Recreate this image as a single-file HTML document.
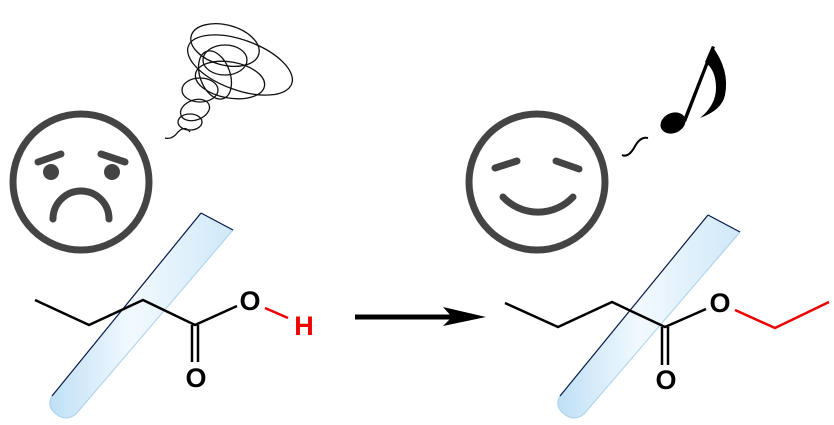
<!DOCTYPE html>
<html><head><style>html,body{margin:0;padding:0;background:#fff;}svg{display:block}</style></head>
<body>
<svg width="834" height="425" viewBox="0 0 834 425" xmlns="http://www.w3.org/2000/svg">
<defs>
<linearGradient id="tg" x1="0" y1="0" x2="1" y2="0">
<stop offset="0" stop-color="#bfe0f6"/><stop offset="0.45" stop-color="#f2f9fe"/><stop offset="1" stop-color="#cfe8f8"/>
</linearGradient>
</defs>
<!-- sad face -->
<g stroke="#444" fill="none" stroke-linecap="round">
<circle cx="81" cy="182" r="68" stroke-width="7"/>
<line x1="38" y1="162" x2="61" y2="154" stroke-width="7"/>
<line x1="101" y1="154" x2="125" y2="162" stroke-width="7"/>
<path d="M53 219 A28 28 0 0 1 109 219" stroke-width="7"/>
</g>
<circle cx="51" cy="172" r="8" fill="#444"/>
<circle cx="112" cy="172" r="8" fill="#444"/>
<!-- scribble -->
<g stroke="#111" fill="none" stroke-width="1.3">
<ellipse cx="225" cy="45" rx="35" ry="20" transform="rotate(15 225 45)"/>
<ellipse cx="240" cy="65" rx="55" ry="25" transform="rotate(20 240 65)"/>
<ellipse cx="225" cy="60" rx="22" ry="15"/>
<ellipse cx="215" cy="75" rx="15" ry="25" transform="rotate(-20 215 75)"/>
<ellipse cx="230" cy="80" rx="35" ry="18" transform="rotate(10 230 80)"/>
<ellipse cx="200" cy="90" rx="18" ry="12"/>
<ellipse cx="195" cy="110" rx="15" ry="10" transform="rotate(-20 195 110)"/>
<ellipse cx="190" cy="122" rx="12" ry="8"/>
<path d="M165 138 Q172 140 178 132 Q185 125 190 132"/>
</g>
<!-- left tube -->
<g>
<path d="M201 213 L233 230 L76 414 Q66 422 56 414 Q46 406 52 396 Z" fill="url(#tg)" stroke="#a8d0ec" stroke-width="1"/>
<path d="M201 213 L52 396" stroke="#0a1a4a" stroke-width="1.2"/>
<path d="M201 213 L233 230" stroke="#0a1a4a" stroke-width="1.2"/>
</g>
<!-- left molecule -->
<g stroke="#000" stroke-width="2.5" fill="none">
<polyline points="35,300 89,325 143,300 195,325 237,306"/>
<line x1="192" y1="325" x2="192" y2="362"/>
<line x1="198" y1="325" x2="198" y2="362"/>
<line x1="265" y1="308" x2="288" y2="318" stroke="#e00"/>
</g>
<text x="250" y="310" font-family="Liberation Sans, sans-serif" font-weight="bold" font-size="27" text-anchor="middle">O</text>
<text x="196" y="387" font-family="Liberation Sans, sans-serif" font-weight="bold" font-size="27" text-anchor="middle">O</text>
<text x="304" y="335" font-family="Liberation Sans, sans-serif" font-weight="bold" font-size="27" text-anchor="middle" fill="#e00">H</text>
<!-- arrow -->
<line x1="355" y1="317" x2="455" y2="317" stroke="#000" stroke-width="5"/>
<path d="M443 307 L486 317 L443 326 L452 317 Z" fill="#000"/>
<!-- smiley -->
<g stroke="#444" fill="none" stroke-linecap="round">
<circle cx="537" cy="182" r="68" stroke-width="7"/>
<line x1="495" y1="168" x2="517" y2="161" stroke-width="7"/>
<line x1="556" y1="161" x2="579" y2="169" stroke-width="7"/>
<path d="M503 197 A48 48 0 0 0 573 197" stroke-width="7"/>
</g>
<!-- note -->
<path d="M622 155 Q628 158 634 148 Q640 136 648 138" stroke="#000" stroke-width="2" fill="none"/>
<ellipse cx="673" cy="123" rx="13" ry="10" transform="rotate(-25 673 123)" fill="#000"/>
<path d="M683 120 L712 46 L715 47 L686 122 Z" fill="#000"/>
<path d="M712 46 Q730 70 725 95 Q722 110 700 118 Q716 105 716 88 Q716 70 705 62 Z" fill="#000"/>
<!-- right tube -->
<g>
<path d="M708 215 L740 232 L584 414 Q574 422 564 414 Q554 406 560 396 Z" fill="url(#tg)" stroke="#a8d0ec" stroke-width="1"/>
<path d="M708 215 L560 396" stroke="#0a1a4a" stroke-width="1.2"/>
<path d="M708 215 L740 232" stroke="#0a1a4a" stroke-width="1.2"/>
</g>
<!-- right molecule -->
<g stroke="#000" stroke-width="2.5" fill="none">
<polyline points="505,303 558,327 612,302 665,327 706,309"/>
<line x1="662" y1="327" x2="662" y2="365"/>
<line x1="668" y1="327" x2="668" y2="365"/>
<polyline points="735,310 775,328 829,302" stroke="#e00"/>
</g>
<text x="720" y="312" font-family="Liberation Sans, sans-serif" font-weight="bold" font-size="27" text-anchor="middle">O</text>
<text x="666" y="389" font-family="Liberation Sans, sans-serif" font-weight="bold" font-size="27" text-anchor="middle">O</text>
</svg>
</body></html>
